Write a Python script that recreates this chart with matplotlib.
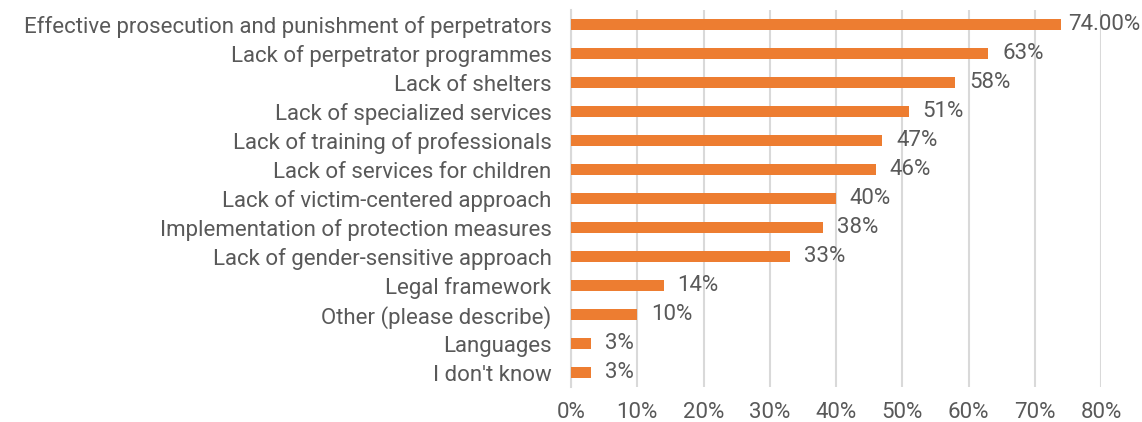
import matplotlib
matplotlib.use("Agg")
import matplotlib.pyplot as plt
from matplotlib.ticker import FuncFormatter
from matplotlib.transforms import offset_copy

plt.rcParams['font.family'] = ['Roboto', 'DejaVu Sans']

# Survey answers, top to bottom
categories = [
    "Effective prosecution and punishment of perpetrators",
    "Lack of perpetrator programmes",
    "Lack of shelters",
    "Lack of specialized services",
    "Lack of training of professionals",
    "Lack of services for children",
    "Lack of victim-centered approach",
    "Implementation of protection measures",
    "Lack of gender-sensitive approach",
    "Legal framework",
    "Other (please describe)",
    "Languages",
    "I don't know",
]
values = [74, 63, 58, 51, 47, 46, 40, 38, 33, 14, 10, 3, 3]
value_labels = ["74.00%", "63%", "58%", "51%", "47%", "46%", "40%",
                "38%", "33%", "14%", "10%", "3%", "3%"]

BAR_COLOR = "#ED7D31"
TEXT_COLOR = "#595959"
GRID_COLOR = "#D9D9D9"
FS = 16

fig = plt.figure(figsize=(11.42, 4.22), dpi=100)
ax = fig.add_axes([0.5, 0.0829, 0.4641, 0.8934])

ypos = list(range(len(categories)))
ax.barh(ypos, values, height=0.36, color=BAR_COLOR, zorder=3)

# data labels sit a little right of each bar end
label_tf = offset_copy(ax.transData, fig=fig, x=10, y=0, units="points")
labels = []
for y, v, lab in zip(ypos, values, value_labels):
    t = ax.text(v, y, lab, va="center", ha="left", fontsize=FS,
                color=TEXT_COLOR, zorder=4, transform=label_tf, clip_on=False)
    labels.append((t, v, y))

ax.set_xlim(0, 80)
ax.set_ylim(len(categories) - 0.5, -0.5)
ax.set_xticks(range(0, 81, 10))
ax.xaxis.set_major_formatter(FuncFormatter(lambda x, _: f"{x:.0f}%"))
ax.set_yticks(ypos)
ax.set_yticklabels(categories)

ax.tick_params(axis="x", length=0, pad=11, labelsize=FS, labelcolor=TEXT_COLOR)
ax.tick_params(axis="y", length=0, pad=14, labelsize=FS, labelcolor=TEXT_COLOR)

ax.grid(axis="x", color=GRID_COLOR, linewidth=1.5, zorder=0)
for side in ["top", "right", "bottom"]:
    ax.spines[side].set_visible(False)
ax.spines["left"].set_color(GRID_COLOR)
ax.spines["left"].set_linewidth(1.5)

# pull back any data label that would run past the right edge
fig.canvas.draw()
renderer = fig.canvas.get_renderer()
fig_w = fig.bbox.width
for t, v, y in labels:
    bb = t.get_window_extent(renderer)
    over = bb.x1 - (fig_w - 2)
    if over > 0:
        px = max(over, 0)
        t.set_transform(offset_copy(ax.transData, fig=fig,
                                    x=10 - px * 72 / fig.dpi, y=0, units="points"))

fig.savefig("out.png", dpi=100)
